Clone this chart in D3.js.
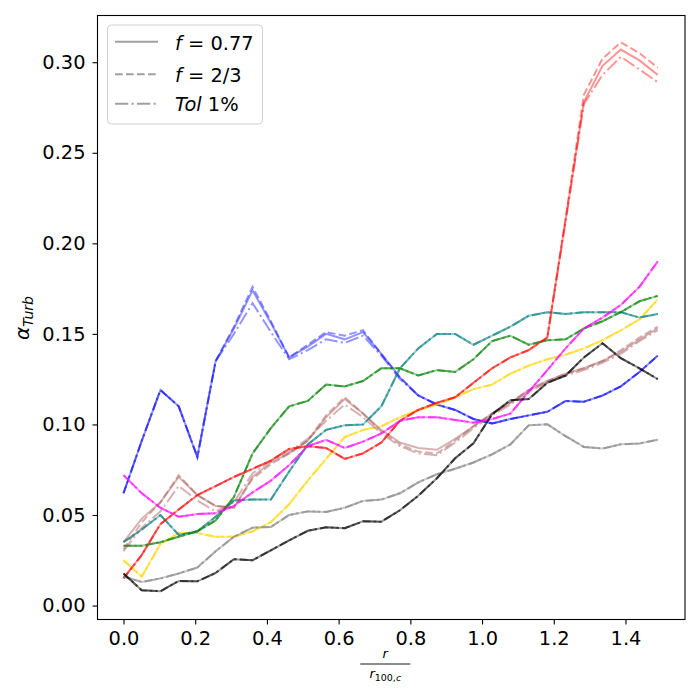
<!DOCTYPE html>
<html>
<head>
<meta charset="utf-8">
<script src="https://cdn.jsdelivr.net/npm/d3@7"></script>
<style>
  body { margin: 0; background: #fff; }
  text { font-family: "DejaVu Sans", sans-serif; }
</style>
</head>
<body>
<svg id="chart" width="700" height="700"></svg>
<script>
// r / r_100,c sample points
var rRatio = [0.000, 0.051, 0.103, 0.154, 0.206, 0.257, 0.308, 0.360, 0.411, 0.462,
              0.514, 0.565, 0.617, 0.668, 0.719, 0.771, 0.822, 0.874, 0.925, 0.976,
              1.028, 1.079, 1.130, 1.182, 1.233, 1.284, 1.336, 1.387, 1.439, 1.490];

var blueF077 = [0.062, 0.091, 0.119, 0.110, 0.082, 0.135, 0.153, 0.174, 0.156, 0.137,
                0.143, 0.150, 0.147, 0.151, 0.139, 0.126, 0.116, 0.111, 0.108, 0.103,
                0.1005, 0.103, 0.105, 0.107, 0.113, 0.1125, 0.116, 0.121, 0.129, 0.138];
var blueF23  = [0.062, 0.091, 0.119, 0.110, 0.082, 0.135, 0.154, 0.176, 0.157, 0.137,
                0.144, 0.151, 0.149, 0.152, 0.139, 0.126, 0.116, 0.111, 0.108, 0.103,
                0.1005, 0.103, 0.105, 0.107, 0.113, 0.1125, 0.116, 0.121, 0.129, 0.138];
var blueTol  = [0.062, 0.091, 0.119, 0.110, 0.082, 0.135, 0.150, 0.167, 0.151, 0.136,
                0.141, 0.147, 0.145, 0.149, 0.138, 0.125, 0.116, 0.111, 0.108, 0.103,
                0.1005, 0.103, 0.105, 0.107, 0.113, 0.1125, 0.116, 0.121, 0.129, 0.138];

var redF077 = [0.015, 0.028, 0.045, 0.053, 0.061, 0.066, 0.071, 0.0755, 0.080, 0.0865,
               0.088, 0.087, 0.081, 0.084, 0.090, 0.102, 0.108, 0.112, 0.115, 0.123,
               0.131, 0.137, 0.141, 0.148, 0.213, 0.278, 0.298, 0.307, 0.301, 0.293];
var redF23  = [0.015, 0.028, 0.045, 0.053, 0.061, 0.066, 0.071, 0.0755, 0.080, 0.0865,
               0.088, 0.087, 0.081, 0.084, 0.090, 0.102, 0.108, 0.112, 0.115, 0.123,
               0.131, 0.137, 0.141, 0.148, 0.214, 0.282, 0.302, 0.311, 0.305, 0.297];
var redTol  = [0.015, 0.028, 0.045, 0.053, 0.061, 0.066, 0.071, 0.0755, 0.080, 0.0865,
               0.088, 0.087, 0.081, 0.084, 0.090, 0.102, 0.108, 0.112, 0.115, 0.123,
               0.131, 0.137, 0.141, 0.148, 0.212, 0.277, 0.293, 0.303, 0.296, 0.289];

var goldVals = [0.025, 0.016, 0.034, 0.040, 0.040, 0.038, 0.038, 0.041, 0.046, 0.056,
                0.069, 0.081, 0.093, 0.097, 0.099, 0.104, 0.108, 0.111, 0.115, 0.1195,
                0.122, 0.128, 0.1325, 0.136, 0.1385, 0.142, 0.1465, 0.152, 0.158, 0.169];

var magentaVals = [0.072, 0.062, 0.054, 0.049, 0.0505, 0.051, 0.055, 0.0625, 0.069, 0.0775,
                   0.088, 0.0915, 0.087, 0.0905, 0.095, 0.102, 0.104, 0.104, 0.1025, 0.101,
                   0.103, 0.106, 0.118, 0.130, 0.142, 0.153, 0.159, 0.166, 0.176, 0.190];

var greenVals = [0.033, 0.033, 0.035, 0.038, 0.041, 0.047, 0.060, 0.084, 0.098, 0.110,
                 0.113, 0.122, 0.121, 0.124, 0.131, 0.131, 0.127, 0.130, 0.129, 0.136,
                 0.146, 0.149, 0.144, 0.1465, 0.147, 0.153, 0.157, 0.162, 0.168, 0.171];

var tealVals = [0.035, 0.042, 0.050, 0.039, 0.041, 0.049, 0.058, 0.0585, 0.0585, 0.074,
                0.089, 0.097, 0.0995, 0.100, 0.110, 0.131, 0.142, 0.150, 0.150, 0.144,
                0.149, 0.154, 0.160, 0.162, 0.161, 0.162, 0.162, 0.162, 0.159, 0.161];

var brownF077 = [0.035, 0.048, 0.057, 0.071, 0.061, 0.055, 0.054, 0.071, 0.079, 0.084,
                 0.091, 0.104, 0.114, 0.106, 0.097, 0.090, 0.087, 0.086, 0.092, 0.099,
                 0.106, 0.112, 0.119, 0.124, 0.128, 0.131, 0.135, 0.140, 0.147, 0.153];
var brownF23  = [0.031, 0.046, 0.057, 0.072, 0.061, 0.055, 0.054, 0.070, 0.078, 0.084,
                 0.091, 0.105, 0.115, 0.106, 0.096, 0.089, 0.085, 0.084, 0.091, 0.099,
                 0.106, 0.112, 0.119, 0.124, 0.128, 0.131, 0.135, 0.141, 0.148, 0.154];
var brownTol  = [0.030, 0.043, 0.052, 0.066, 0.058, 0.052, 0.057, 0.073, 0.080, 0.085,
                 0.092, 0.102, 0.111, 0.104, 0.095, 0.088, 0.084, 0.083, 0.090, 0.098,
                 0.105, 0.111, 0.118, 0.123, 0.127, 0.130, 0.134, 0.139, 0.146, 0.152];

var grayVals = [0.016, 0.013, 0.015, 0.0177, 0.021, 0.030, 0.038, 0.043, 0.0434, 0.050,
                0.052, 0.0517, 0.054, 0.0578, 0.0585, 0.062, 0.068, 0.0725, 0.0755, 0.079,
                0.0835, 0.089, 0.0995, 0.1001, 0.0935, 0.0876, 0.0867, 0.089, 0.0895, 0.0915];

var blackVals = [0.0177, 0.0084, 0.0079, 0.0136, 0.0134, 0.018, 0.0256, 0.025, 0.0305, 0.036,
                 0.0413, 0.0432, 0.0427, 0.0465, 0.0463, 0.0526, 0.0606, 0.0703, 0.0813, 0.0896,
                 0.1056, 0.1134, 0.114, 0.123, 0.127, 0.137, 0.1448, 0.1366, 0.131, 0.125];

var xTicks = [0, 0.2, 0.4, 0.6, 0.8, 1.0, 1.2, 1.4];
var yTicks = [0, 0.05, 0.10, 0.15, 0.20, 0.25, 0.30];

// [color, f=0.77, f=2/3, Tol 1%]
var series = [
    ["blue",      blueF077,    blueF23,     blueTol],
    ["gold",      goldVals,    goldVals,    goldVals],
    ["teal",      tealVals,    tealVals,    tealVals],
    ["green",     greenVals,   greenVals,   greenVals],
    ["#a04848",   brownF077,   brownF23,    brownTol],
    ["red",       redF077,     redF23,      redTol],
    ["magenta",   magentaVals, magentaVals, magentaVals],
    ["gray",      grayVals,    grayVals,    grayVals],
    ["black",     blackVals,   blackVals,   blackVals]
];

var dashes = [null, "7.7,3.3", "13.3,3.3,2.1,3.3"];

var margin = {left: 97.5, right: 685, top: 15.5, bottom: 619.5};

var svg = d3.select("#chart");

var x = d3.scaleLinear().domain([-0.0725, 1.566]).range([margin.left, margin.right]);
var y = d3.scaleLinear().domain([-0.0077, 0.3258]).range([margin.bottom, margin.top]);

var line = d3.line()
    .x(function(d, i) { return x(rRatio[i]); })
    .y(function(d) { return y(d); });

var plot = svg.append("g");
series.forEach(function(s) {
    for (var k = 0; k < 3; k++) {
        plot.append("path")
            .attr("d", line(s[k + 1]))
            .attr("fill", "none")
            .attr("stroke", s[0])
            .attr("stroke-opacity", 0.42)
            .attr("stroke-width", 2)
            .attr("stroke-dasharray", dashes[k]);
    }
});

// axes
var xAxis = d3.axisBottom(x).tickValues(xTicks).tickFormat(d3.format(".1f"))
    .tickSize(5).tickPadding(6.5);
var yAxis = d3.axisLeft(y).tickValues(yTicks).tickFormat(d3.format(".2f"))
    .tickSize(5).tickPadding(7);

var gx = svg.append("g").attr("transform", "translate(0," + margin.bottom + ")").call(xAxis);
var gy = svg.append("g").attr("transform", "translate(" + margin.left + ",0)").call(yAxis);
[gx, gy].forEach(function(g) {
    g.select(".domain").remove();
    g.selectAll("text").attr("font-size", "19.4px").attr("fill", "#000")
        .style("font-family", "DejaVu Sans");
    g.selectAll(".tick line").attr("stroke", "#000").attr("stroke-width", 1.1);
});

svg.append("rect")
    .attr("x", margin.left).attr("y", margin.top)
    .attr("width", margin.right - margin.left)
    .attr("height", margin.bottom - margin.top)
    .attr("fill", "none").attr("stroke", "#000").attr("stroke-width", 1.1);

// legend
var legend = svg.append("g");
legend.append("rect")
    .attr("x", 107.5).attr("y", 25).attr("width", 155).attr("height", 99)
    .attr("rx", 4).attr("fill", "#fff").attr("fill-opacity", 0.8)
    .attr("stroke", "#d0d0d0").attr("stroke-width", 1);

var legendRows = [
    {ly: 41.7, ty: 49.5, parts: [["f", true], [" = 0.77", false]]},
    {ly: 74.3, ty: 81.5, parts: [["f", true], [" = 2/3", false]]},
    {ly: 103.7, ty: 111, parts: [["Tol", true], [" 1%", false]]}
];
legendRows.forEach(function(row, k) {
    legend.append("line")
        .attr("x1", 115).attr("x2", 158)
        .attr("y1", row.ly).attr("y2", row.ly)
        .attr("stroke", "gray").attr("stroke-opacity", 0.75).attr("stroke-width", 2)
        .attr("stroke-dasharray", dashes[k]);
    var t = legend.append("text").attr("x", 175).attr("y", row.ty)
        .attr("font-size", "19.4px").attr("fill", "#000");
    row.parts.forEach(function(p) {
        t.append("tspan").attr("font-style", p[1] ? "italic" : "normal").text(p[0]);
    });
});

// y label: alpha_Turb
var ylab = svg.append("text")
    .attr("transform", "translate(29,318) rotate(-90)")
    .attr("text-anchor", "middle").attr("font-size", "20px").attr("fill", "#000");
ylab.append("tspan").attr("font-style", "italic").text("α");
ylab.append("tspan").attr("font-style", "italic").attr("font-size", "14px")
    .attr("dy", 4).text("Turb");

// x label: r / r_100,c
var cx = (margin.left + margin.right) / 2 - 6;
svg.append("text").attr("x", cx).attr("y", 658).attr("text-anchor", "middle")
    .attr("font-size", "13px").attr("font-style", "italic").text("r");
svg.append("line").attr("x1", cx - 25).attr("x2", cx + 25)
    .attr("y1", 664).attr("y2", 664).attr("stroke", "#000").attr("stroke-width", 0.9);
var den = svg.append("text").attr("x", cx).attr("y", 678).attr("text-anchor", "middle")
    .attr("font-size", "13px");
den.append("tspan").attr("font-style", "italic").text("r");
den.append("tspan").attr("font-size", "9.5px").attr("dy", 3).text("100,");
den.append("tspan").attr("font-size", "9.5px").attr("font-style", "italic").text("c");
</script>
</body>
</html>
